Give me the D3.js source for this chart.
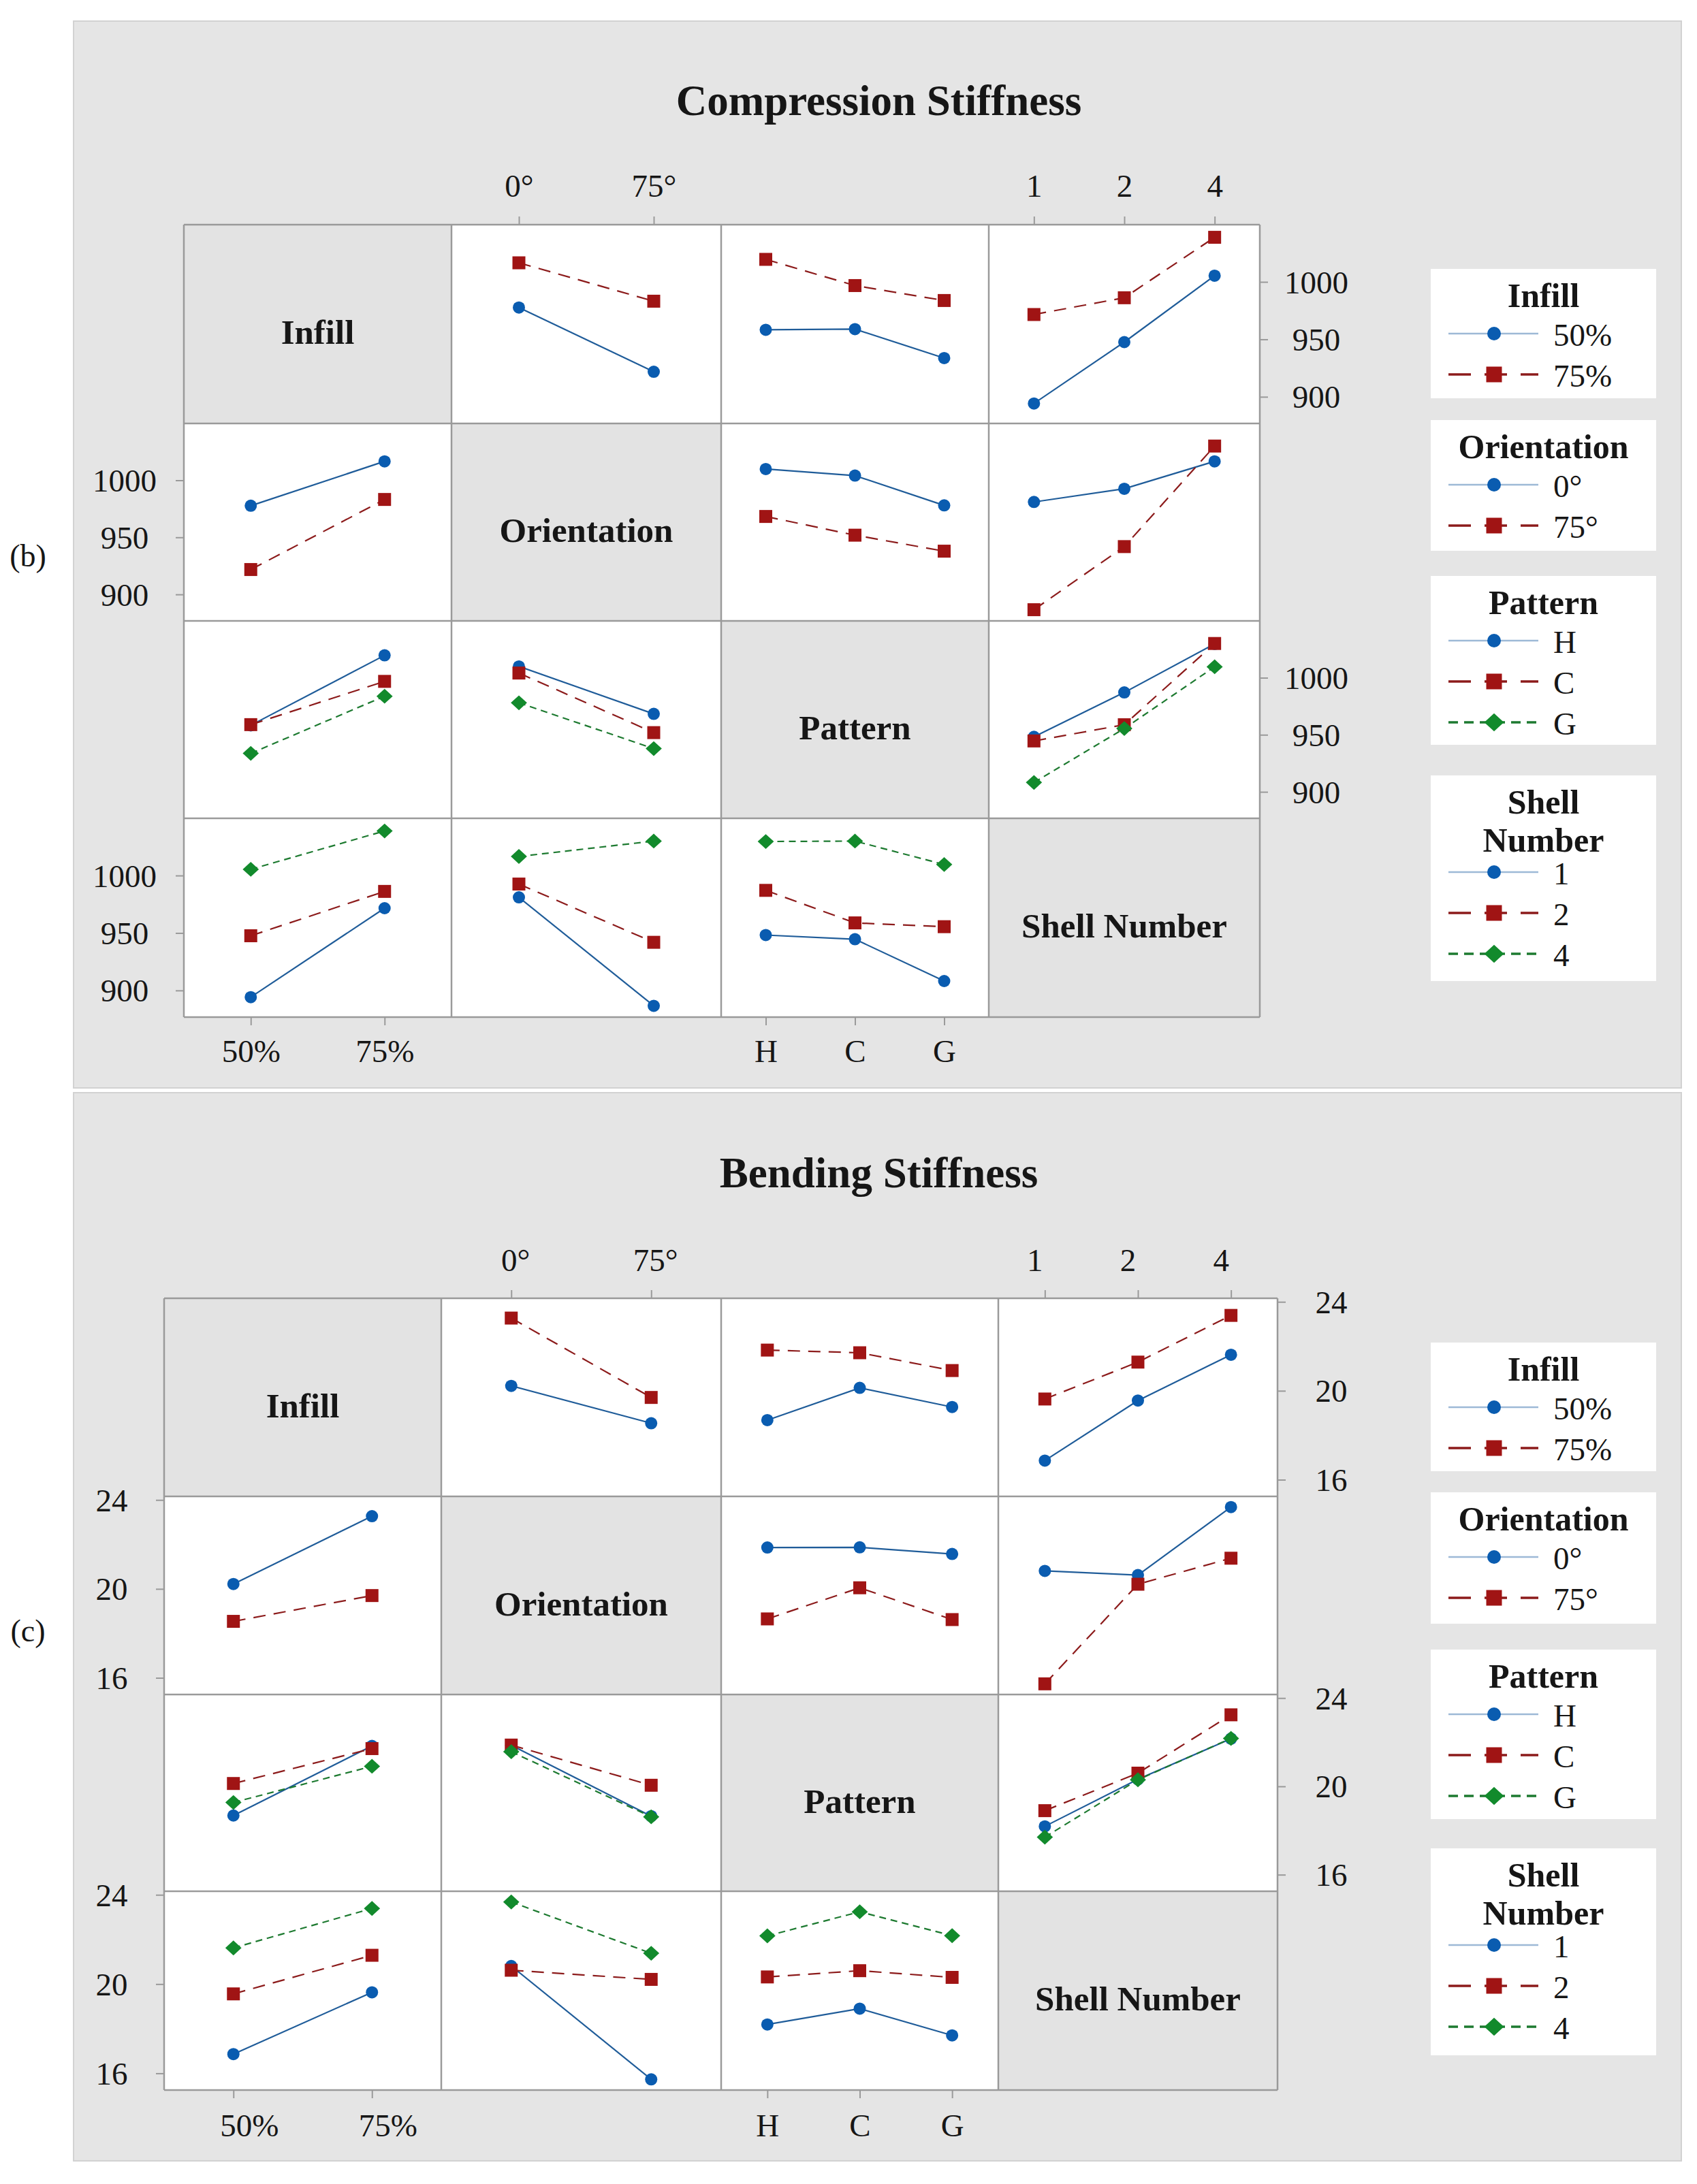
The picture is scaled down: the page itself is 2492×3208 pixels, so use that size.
<!DOCTYPE html>
<html><head><meta charset="utf-8">
<script src="https://cdn.jsdelivr.net/npm/d3@7"></script>
<style>
html,body{margin:0;padding:0;background:#fff;}
svg{display:block;}
text{font-family:"Liberation Serif","Times New Roman",serif;fill:#161616;}
</style>
</head><body>
<svg id="chart" width="2492" height="3208"></svg>
<script>
// ---------- factor levels (categories / tick labels) ----------
const factorNames = ["Infill", "Orientation", "Pattern", "Shell Number"];
const infillLevels = ["50%", "75%"];
const orientationLevels = ["0°", "75°"];
const patternLevels = ["H", "C", "G"];
const shellLevels = ["1", "2", "4"];

// ---------- Compression stiffness: two-factor means (rows = first factor, cols = second) ----------
const compTicks = [900, 950, 1000];
const compInfillOrientation = [[977.7, 921.8], [1016.6, 983.2]];
const compInfillPattern = [[958.3, 958.9, 933.7], [1019.6, 996.8, 983.8]];
const compInfillShell = [[894.2, 947.6, 1005.4], [971.6, 986.2, 1038.8]];
const compOrientationPattern = [[1009.9, 1004.1, 978.0], [968.3, 951.9, 937.9]];
const compOrientationShell = [[981.0, 992.6, 1016.6], [886.6, 941.9, 1030.0]];
const compPatternShell = [[948.2, 987.1, 1029.6], [944.6, 958.8, 1030.0], [908.2, 955.5, 1009.6]];

// ---------- Bending stiffness: two-factor means ----------
const bendTicks = [16, 20, 24];
const bendInfillOrientation = [[20.22, 18.54], [23.27, 19.70]];
const bendInfillPattern = [[18.68, 20.13, 19.27], [21.83, 21.71, 20.91]];
const bendInfillShell = [[16.86, 19.56, 21.62], [19.63, 21.29, 23.39]];
const bendOrientationPattern = [[21.86, 21.87, 21.57], [18.65, 20.05, 18.62]];
const bendOrientationShell = [[20.81, 20.62, 23.68], [15.73, 20.21, 21.38]];
const bendPatternShell = [[18.19, 20.32, 22.16], [18.90, 20.60, 23.24], [17.70, 20.30, 22.17]];

// ---------- build ----------
const levels = [infillLevels, orientationLevels, patternLevels, shellLevels];

const panels = [
  {
    title: "Compression Stiffness", tag: "(b)", ticks: compTicks, domain: [876.8, 1049.8],
    tables: {
      "0-1": compInfillOrientation, "0-2": compInfillPattern, "0-3": compInfillShell,
      "1-2": compOrientationPattern, "1-3": compOrientationShell, "2-3": compPatternShell
    },
    box: {x: 108, y: 31, w: 2361, h: 1567},
    xs: [270, 663, 1059, 1452, 1850], ys: [330, 622, 912, 1202, 1494],
    titleY: 148, tagY: 816,
    legendTops: [395, 617, 846, 1139], legendHeights: [190, 192, 248, 302],
    leftOff: 87, rightOff: 83, topOff: 57, bottomOff: 50,
    labelDx: [0, 0, 0, 0]
  },
  {
    title: "Bending Stiffness", tag: "(c)", ticks: bendTicks, domain: [15.25, 24.16],
    tables: {
      "0-1": bendInfillOrientation, "0-2": bendInfillPattern, "0-3": bendInfillShell,
      "1-2": bendOrientationPattern, "1-3": bendOrientationShell, "2-3": bendPatternShell
    },
    box: {x: 108, y: 1605, w: 2361, h: 1569},
    xs: [241, 648, 1059, 1466, 1876], ys: [1907, 2198, 2489, 2778, 3070],
    titleY: 1723, tagY: 2395,
    legendTops: [1972, 2192, 2423, 2715], legendHeights: [189, 193, 249, 304],
    leftOff: 77, rightOff: 79, topOff: 56, bottomOff: 52,
    labelDx: [23, 6, 0, -15]
  }
];

const seriesStyle = [
  {line: "#1f5c99", fill: "#0a5cb0", dash: null, legendLine: "#9db9d6", legendDash: null, shape: "circle"},
  {line: "#8c1b1b", fill: "#a01414", dash: "18,12", legendLine: "#8c1b1b", legendDash: "33,20", shape: "square"},
  {line: "#1d7a30", fill: "#128a2c", dash: "10,7", legendLine: "#1d7a30", legendDash: "14,9", shape: "diamond"}
];

function markerPath(shape, s) {
  if (shape === "circle") return d3.symbol().type(d3.symbolCircle).size(Math.PI * s * s)();
  if (shape === "square") return `M${-s},${-s}L${s},${-s}L${s},${s}L${-s},${s}Z`;
  const w = s * 1.25, h = s * 1.15;
  return `M0,${-h}L${w},0L0,${h}L${-w},0Z`;
}
const markerSize = {circle: 9, square: 9.5, diamond: 9.5};
const legendMarkerSize = {circle: 10, square: 11.5, diamond: 11.5};

const svg = d3.select("#chart");
const serif = '"Liberation Serif","Times New Roman",serif';

function cellValues(p, r, c) {
  // series = factor r, x = factor c ; returns [series][x]
  if (r < c) return p.tables[r + "-" + c];
  const t = p.tables[c + "-" + r];
  return levels[r].map((_, s) => levels[c].map((_, x) => t[x][s]));
}

panels.forEach(p => {
  const g = svg.append("g");
  g.append("rect").attr("x", p.box.x).attr("y", p.box.y).attr("width", p.box.w).attr("height", p.box.h)
    .attr("fill", "#e5e5e5").attr("stroke", "#d2d2d2").attr("stroke-width", 2);

  g.append("text").attr("x", p.box.x + p.box.w / 2 + 2).attr("y", p.titleY)
    .attr("text-anchor", "middle").attr("dominant-baseline", "central")
    .attr("font-weight", "bold").attr("font-size", 63).text(p.title);

  g.append("text").attr("x", 41).attr("y", p.tagY)
    .attr("text-anchor", "middle").attr("dominant-baseline", "central")
    .attr("font-size", 46).text(p.tag);

  const xScales = levels.map((lv, c) => d3.scalePoint().domain(lv).range([p.xs[c], p.xs[c + 1]]).padding(0.5));
  const yScales = [0, 1, 2, 3].map(r => d3.scaleLinear().domain(p.domain).range([p.ys[r + 1], p.ys[r]]));

  // cells
  for (let r = 0; r < 4; r++) {
    for (let c = 0; c < 4; c++) {
      const x0 = p.xs[c], x1 = p.xs[c + 1], y0 = p.ys[r], y1 = p.ys[r + 1];
      g.append("rect").attr("x", x0).attr("y", y0).attr("width", x1 - x0).attr("height", y1 - y0)
        .attr("fill", r === c ? "#e3e3e3" : "#ffffff");
      if (r === c) {
        g.append("text").attr("x", (x0 + x1) / 2).attr("y", (y0 + y1) / 2 + 12)
          .attr("text-anchor", "middle").attr("dominant-baseline", "central")
          .attr("font-weight", "bold").attr("font-size", 51).text(factorNames[r]);
        continue;
      }
      const vals = cellValues(p, r, c);
      const xs = xScales[c], ys = yScales[r];
      const cell = g.append("g");
      vals.forEach((row, s) => {
        const st = seriesStyle[s];
        const pts = row.map((v, i) => [xs(levels[c][i]), ys(v)]);
        cell.append("path").attr("d", d3.line()(pts)).attr("fill", "none")
          .attr("stroke", st.line).attr("stroke-width", 2.2)
          .attr("stroke-dasharray", st.dash);
      });
      vals.forEach((row, s) => {
        const st = seriesStyle[s];
        row.forEach((v, i) => {
          cell.append("path").attr("d", markerPath(st.shape, markerSize[st.shape]))
            .attr("transform", `translate(${xs(levels[c][i])},${ys(v)})`)
            .attr("fill", st.fill);
        });
      });
    }
  }
  // grid lines
  const gridG = g.append("g").attr("stroke", "#9a9a9a").attr("stroke-width", 2.5);
  p.xs.forEach(x => gridG.append("line").attr("x1", x).attr("x2", x).attr("y1", p.ys[0]).attr("y2", p.ys[4]));
  p.ys.forEach(y => gridG.append("line").attr("x1", p.xs[0]).attr("x2", p.xs[4]).attr("y1", y).attr("y2", y));

  // axes
  const fmt = d3.format("d");
  function styleAxis(sel) {
    sel.select(".domain").remove();
    sel.selectAll(".tick line").attr("stroke", "#9a9a9a").attr("stroke-width", 2);
    sel.selectAll(".tick text").attr("font-family", serif)
      .attr("font-size", 47).attr("fill", "#161616");
  }
  [1, 3].forEach(c => {
    const a = g.append("g").attr("transform", `translate(0,${p.ys[0]})`)
      .call(d3.axisTop(xScales[c]).tickSize(12));
    styleAxis(a);
    a.selectAll(".tick text").attr("y", -p.topOff).attr("x", p.labelDx[c])
      .attr("dy", null).attr("dominant-baseline", "central");
  });
  [0, 2].forEach(c => {
    const a = g.append("g").attr("transform", `translate(0,${p.ys[4]})`)
      .call(d3.axisBottom(xScales[c]).tickSize(12));
    styleAxis(a);
    a.selectAll(".tick text").attr("y", p.bottomOff).attr("x", p.labelDx[c])
      .attr("dy", null).attr("dominant-baseline", "central");
  });
  [0, 2].forEach(r => {
    const a = g.append("g").attr("transform", `translate(${p.xs[4]},0)`)
      .call(d3.axisRight(yScales[r]).tickValues(p.ticks).tickFormat(fmt).tickSize(12));
    styleAxis(a);
    a.selectAll(".tick text").attr("x", p.rightOff).attr("text-anchor", "middle")
      .attr("dy", null).attr("dominant-baseline", "central");
  });
  [1, 3].forEach(r => {
    const a = g.append("g").attr("transform", `translate(${p.xs[0]},0)`)
      .call(d3.axisLeft(yScales[r]).tickValues(p.ticks).tickFormat(fmt).tickSize(12));
    styleAxis(a);
    a.selectAll(".tick text").attr("x", -p.leftOff).attr("text-anchor", "middle")
      .attr("dy", null).attr("dominant-baseline", "central");
  });

  // legends
  const lx = 2101, lw = 331;
  factorNames.forEach((name, k) => {
    const top = p.legendTops[k], h = p.legendHeights[k];
    const lg = g.append("g");
    lg.append("rect").attr("x", lx).attr("y", top).attr("width", lw).attr("height", h).attr("fill", "#ffffff");
    const lines = name === "Shell Number" ? ["Shell", "Number"] : [name];
    lines.forEach((t, i) => {
      lg.append("text").attr("x", lx + lw / 2).attr("y", top + 39 + i * 56)
        .attr("text-anchor", "middle").attr("dominant-baseline", "central")
        .attr("font-weight", "bold").attr("font-size", 50).text(t);
    });
    const first = top + 95 + (lines.length - 1) * 47;
    levels[k].forEach((lvl, s) => {
      const st = seriesStyle[s];
      const y = first + s * 60;
      lg.append("line").attr("x1", lx + 26).attr("x2", lx + 158).attr("y1", y).attr("y2", y)
        .attr("stroke", st.legendLine).attr("stroke-width", s === 0 ? 2.5 : 3.5)
        .attr("stroke-dasharray", st.legendDash);
      lg.append("path").attr("d", markerPath(st.shape, legendMarkerSize[st.shape]))
        .attr("transform", `translate(${lx + 93},${y})`).attr("fill", st.fill);
      lg.append("text").attr("x", lx + 180).attr("y", y + 2)
        .attr("dominant-baseline", "central").attr("font-size", 47).text(lvl);
    });
  });
});
</script>
</body></html>
